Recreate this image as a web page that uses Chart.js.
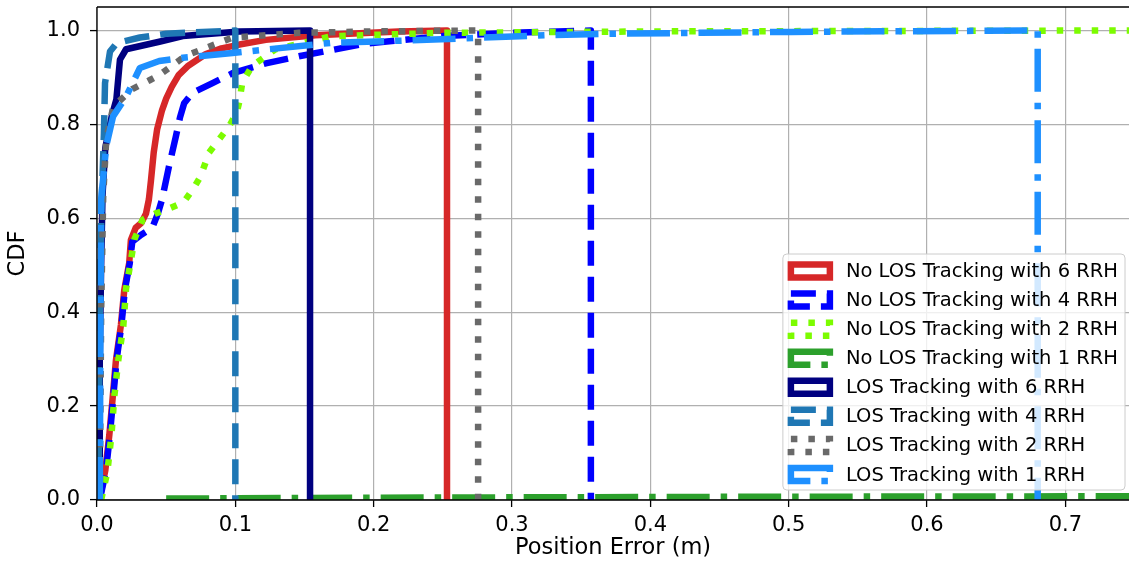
<!DOCTYPE html>
<html lang="en">
<head>
<meta charset="UTF-8">
<title>Position error CDF</title>
<script src="https://cdn.jsdelivr.net/npm/chart.js"></script>
<style>
  body { margin: 0; background: #fff; }
  canvas { display: block; }
</style>
</head>
<body>
<canvas id="cdfChart" width="1129" height="565"></canvas>
<script>
// each curve is a list of [position error (m), CDF] points, closed down to 0 at its max error
const noLos6 = [[0.0017, 0], [0.006, 0.063], [0.0089, 0.138], [0.0113, 0.217], [0.0137, 0.298],
  [0.0173, 0.373], [0.0197, 0.447], [0.0233, 0.505], [0.0245, 0.554], [0.028, 0.58], [0.032, 0.59],
  [0.0354, 0.61], [0.0375, 0.64], [0.039, 0.68], [0.041, 0.74], [0.0435, 0.79], [0.047, 0.83],
  [0.050, 0.855], [0.054, 0.88], [0.059, 0.905], [0.066, 0.925], [0.0787, 0.95], [0.09, 0.962],
  [0.103, 0.97], [0.122, 0.98], [0.158, 0.99], [0.218, 0.998], [0.253, 1.0], [0.253, 0]];
const noLos4 = [[0.002, 0], [0.0065, 0.063], [0.0093, 0.138], [0.0117, 0.217], [0.0141, 0.298],
  [0.0177, 0.373], [0.0201, 0.447], [0.0237, 0.505], [0.0255, 0.55], [0.032, 0.565], [0.040, 0.58],
  [0.044, 0.61], [0.047, 0.64], [0.052, 0.71], [0.057, 0.774], [0.060, 0.815], [0.063, 0.845],
  [0.069, 0.867], [0.0835, 0.888], [0.098, 0.909], [0.122, 0.93], [0.146, 0.945], [0.194, 0.972],
  [0.25, 0.988], [0.30, 0.995], [0.357, 1.0], [0.357, 0]];
const noLos2 = [[0.003, 0], [0.0075, 0.06], [0.0105, 0.14], [0.0125, 0.22], [0.0155, 0.30],
  [0.019, 0.37], [0.021, 0.45], [0.0245, 0.51], [0.027, 0.555], [0.033, 0.597], [0.042, 0.61],
  [0.050, 0.618], [0.058, 0.628], [0.064, 0.64], [0.070, 0.665], [0.075, 0.69], [0.081, 0.74],
  [0.0955, 0.796], [0.101, 0.825], [0.103, 0.85], [0.105, 0.889], [0.112, 0.924], [0.129, 0.96],
  [0.170, 0.988], [0.25, 0.995], [0.40, 0.998], [0.746, 1.0]];
const noLos1 = [[0.05, 0.003], [0.2, 0.005], [0.5, 0.007], [0.746, 0.008]];
const los6 = [[0.0015, 0], [0.002, 0.3], [0.003, 0.5], [0.004, 0.65], [0.006, 0.75], [0.0106, 0.817],
  [0.014, 0.853], [0.0166, 0.938], [0.021, 0.96], [0.045, 0.976], [0.062, 0.988], [0.103, 0.998],
  [0.154, 1.0], [0.154, 0]];
const los4 = [[0.001, 0], [0.002, 0.4], [0.003, 0.6], [0.005, 0.78], [0.0058, 0.888], [0.0094, 0.955],
  [0.0142, 0.973], [0.031, 0.985], [0.05, 0.993], [0.1, 1.0], [0.1, 0]];
const los2 = [[0.002, 0], [0.003, 0.4], [0.0045, 0.65], [0.0067, 0.768], [0.0118, 0.838],
  [0.0255, 0.875], [0.038, 0.894], [0.045, 0.905], [0.064, 0.946], [0.098, 0.985], [0.146, 0.995],
  [0.2, 0.998], [0.2755, 1.0], [0.2755, 0]];
const los1 = [[0.002, 0], [0.0025, 0.4], [0.003, 0.64], [0.0067, 0.754], [0.0116, 0.817],
  [0.021, 0.859], [0.031, 0.92], [0.045, 0.935], [0.062, 0.942], [0.098, 0.952], [0.170, 0.974],
  [0.228, 0.979], [0.324, 0.99], [0.372, 0.993], [0.502, 0.997], [0.68, 1.0], [0.68, 0]];

const seriesLabels = [
  "No LOS Tracking with 6 RRH", "No LOS Tracking with 4 RRH",
  "No LOS Tracking with 2 RRH", "No LOS Tracking with 1 RRH",
  "LOS Tracking with 6 RRH", "LOS Tracking with 4 RRH",
  "LOS Tracking with 2 RRH", "LOS Tracking with 1 RRH"
];
const seriesData = [noLos6, noLos4, noLos2, noLos1, los6, los4, los2, los1];
const seriesColors = ["#d62728", "#0000ff", "#7cfc00", "#2ca02c", "#000080", "#1f77b4", "#696969", "#1e90ff"];
const seriesStyles = ["solid", "dashed", "dotted", "dashdot", "solid", "dashed", "dotted", "dashdot"];

const LW = 6.5;
const dashes = {
  solid: [],
  dashed: [25, 11],
  dotted: [6.5, 11],
  dashdot: [43, 11, 6.5, 11]
};
const FONT = "'DejaVu Sans', sans-serif";

const datasets = seriesData.map((pts, i) => ({
  label: seriesLabels[i],
  data: pts.map(p => ({ x: p[0], y: p[1] })),
  showLine: true,
  fill: false,
  borderColor: seriesColors[i],
  backgroundColor: seriesColors[i],
  borderWidth: LW,
  borderDash: dashes[seriesStyles[i]],
  borderJoinStyle: "round",
  pointRadius: 0,
  tension: 0,
  order: seriesData.length - i   // later series drawn on top
}));

// spines on top of the curves, then the legend box in the lower right
const framePlugin = {
  id: "frameAndLegend",
  afterDatasetsDraw(chart) {
    const { ctx, chartArea: a } = chart;
    ctx.save();
    ctx.strokeStyle = "#000";
    ctx.lineWidth = 1.3;
    ctx.beginPath();
    ctx.moveTo(a.left, a.top);
    ctx.lineTo(a.right, a.top);
    ctx.moveTo(a.left, a.top);
    ctx.lineTo(a.left, a.bottom);
    ctx.lineTo(a.right, a.bottom);
    ctx.stroke();
    ctx.restore();
  },
  afterDraw(chart) {
    const { ctx, chartArea: a } = chart;
    const rowH = 29.07;
    ctx.save();
    ctx.font = "19.5px " + FONT;
    const textW = Math.max(...seriesLabels.map(t => ctx.measureText(t).width));
    const w = 63 + textW + 7;
    const h = 236;
    const right = a.right - 4;
    const bottom = a.bottom - 10;
    const left = right - w;
    const top = bottom - h;

    ctx.beginPath();
    ctx.roundRect(left, top, w, h, 4);
    ctx.fillStyle = "rgba(255,255,255,0.8)";
    ctx.fill();
    ctx.strokeStyle = "#cccccc";
    ctx.lineWidth = 1;
    ctx.stroke();

    chart.data.datasets.forEach((ds, i) => {
      const cy = top + 17 + rowH * i;
      ctx.beginPath();
      ctx.rect(left + 8, cy - 6.5, 39, 13);
      ctx.fillStyle = "#fff";
      ctx.fill();
      ctx.setLineDash(ds.borderDash);
      ctx.lineWidth = LW;
      ctx.strokeStyle = ds.borderColor;
      ctx.stroke();
      ctx.setLineDash([]);
      ctx.fillStyle = "#000";
      ctx.textBaseline = "middle";
      ctx.textAlign = "left";
      ctx.fillText(ds.label, left + 63, cy + 1);
    });
    ctx.restore();
  }
};

const gridCfg = {
  color: "#b0b0b0",
  lineWidth: 1.2,
  drawTicks: true,
  tickLength: 7,
  tickColor: "#000",
  tickWidth: 1.3
};

// fixed scale sizes; drop the extra room Chart.js keeps for edge labels
const fitX = s => { s.height = 65; s.paddingLeft = 0; s.paddingRight = 0; };
const fitY = s => { s.width = 97; s.paddingTop = 0; s.paddingBottom = 0; };

new Chart(document.getElementById("cdfChart"), {
  type: "scatter",
  data: { datasets },
  plugins: [framePlugin],
  options: {
    responsive: false,
    devicePixelRatio: 1,
    animation: false,
    layout: { padding: { top: 7, right: 0, left: 0, bottom: 0 } },
    plugins: { legend: { display: false }, tooltip: { enabled: false } },
    scales: {
      x: {
        type: "linear",
        min: 0,
        max: 0.746,
        border: { display: false },
        grid: gridCfg,
        ticks: {
          stepSize: 0.1,
          includeBounds: false,
          padding: 6,
          color: "#000",
          font: { family: FONT, size: 21 },
          callback: v => v.toFixed(1)
        },
        title: {
          display: true,
          text: "Position Error (m)",
          color: "#000",
          font: { family: FONT, size: 22.5 },
          padding: { top: 0, bottom: 3 }
        },
        afterFit: fitX
      },
      y: {
        type: "linear",
        min: 0,
        max: 1.05,
        border: { display: false },
        grid: gridCfg,
        ticks: {
          stepSize: 0.2,
          includeBounds: false,
          padding: 10,
          color: "#000",
          font: { family: FONT, size: 21 },
          callback: v => v.toFixed(1)
        },
        title: {
          display: true,
          text: "CDF",
          color: "#000",
          font: { family: FONT, size: 22.5 },
          padding: { top: 5, bottom: 0 }
        },
        afterFit: fitY
      }
    }
  }
});
</script>
</body>
</html>
